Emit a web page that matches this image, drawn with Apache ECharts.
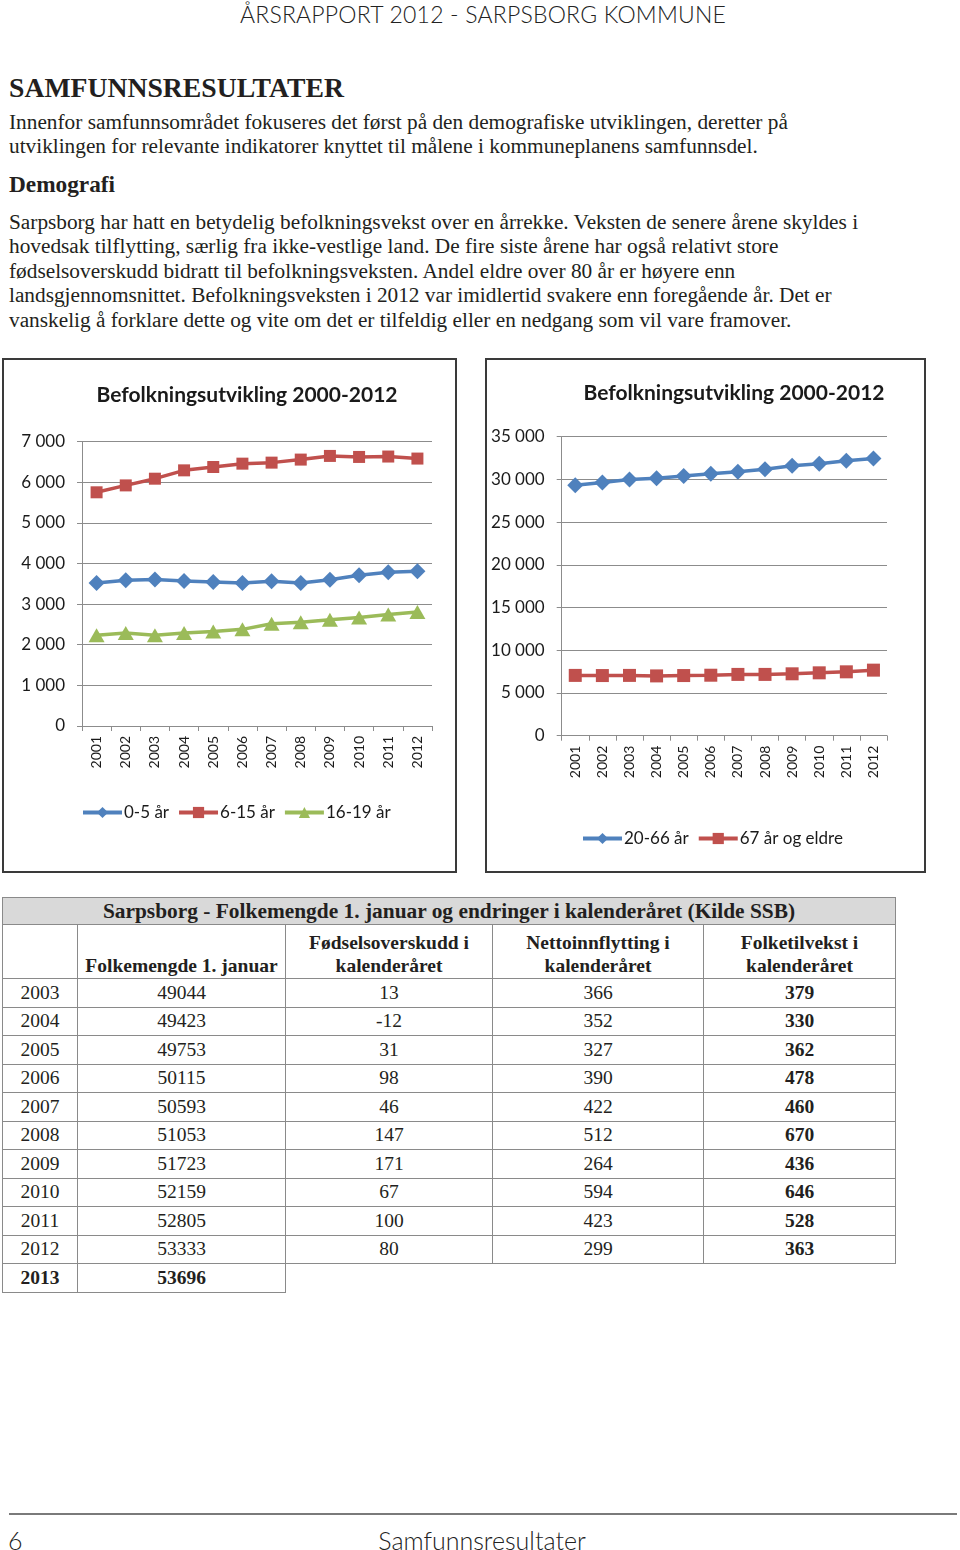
<!DOCTYPE html>
<html>
<head>
<meta charset="utf-8">
<script src="https://cdn.jsdelivr.net/npm/echarts@6.0.0/dist/echarts.min.js"></script>
<style>
  html, body { margin:0; padding:0; background:#fff; }
  body { width:960px; height:1550px; position:relative; overflow:hidden; color:#231f20; }
  .abs { position:absolute; }
  .hdr { left:0; width:966px; top:0; text-align:center; font-family:Lato, sans-serif; font-weight:300; font-size:23px; line-height:28px; letter-spacing:0.2px; color:#222; }
  .h1 { left:9px; top:72px; font-family:"Liberation Serif", serif; font-weight:bold; font-size:27.7px; line-height:32px; }
  .p { left:9px; font-family:"Liberation Serif", serif; font-size:21.3px; line-height:24.6px; white-space:nowrap; }
  .h2 { left:9px; top:170px; font-family:"Liberation Serif", serif; font-weight:bold; font-size:23.3px; line-height:28px; }
  .box { border:2px solid #3a3a3a; box-sizing:border-box; pointer-events:none; }
  table { position:absolute; left:2px; top:897px; border-collapse:collapse; font-family:"Liberation Serif", serif; font-size:19.5px; color:#231f20; table-layout:fixed; }
  td { border:1.5px solid #8a8a8a; text-align:center; padding:0; height:27.5px; line-height:20px; }
  td.t { background:#d9d9d9; font-weight:bold; font-size:21.4px; height:26px; }
  tr.h td { font-weight:bold; vertical-align:bottom; height:52px; padding-bottom:1px; line-height:23px; }
  td.b { font-weight:bold; }
  td.n { border:none; }
  .foot { left:9px; top:1513px; width:948px; height:0; border-top:2px solid #7a7a7a; }
  .pg { font-family:Lato, sans-serif; font-weight:300; font-size:25px; line-height:30px; color:#222; top:1525px; }
</style>
</head>
<body>
<div class="abs hdr">ÅRSRAPPORT 2012 - SARPSBORG KOMMUNE</div>
<div class="abs h1">SAMFUNNSRESULTATER</div>
<div class="abs p" style="top:109.7px">Innenfor samfunnsområdet fokuseres det først på den demografiske utviklingen, deretter på<br>utviklingen for relevante indikatorer knyttet til målene i kommuneplanens samfunnsdel.</div>
<div class="abs h2">Demografi</div>
<div class="abs p" style="top:209.7px">Sarpsborg har hatt en betydelig befolkningsvekst over en årrekke. Veksten de senere årene skyldes i<br>hovedsak tilflytting, særlig fra ikke-vestlige land. De fire siste årene har også relativt store<br>fødselsoverskudd bidratt til befolkningsveksten. Andel eldre over 80 år er høyere enn<br>landsgjennomsnittet. Befolkningsveksten i 2012 var imidlertid svakere enn foregående år. Det er<br>vanskelig å forklare dette og vite om det er tilfeldig eller en nedgang som vil vare framover.</div>

<div id="c1" class="abs" style="left:2px; top:358px; width:454px; height:514px;"></div>
<div class="abs box" style="left:2px; top:358px; width:455px; height:515px;"></div>
<div id="c2" class="abs" style="left:485px; top:358px; width:440px; height:514px;"></div>
<div class="abs box" style="left:485px; top:358px; width:441px; height:515px;"></div>

<table id="tbl"></table>

<div class="abs foot"></div>
<div class="abs pg" style="left:8px;">6</div>
<div class="abs pg" style="left:0; width:964px; text-align:center;">Samfunnsresultater</div>

<script>
// ---- chart data ----
const years = ['2001','2002','2003','2004','2005','2006','2007','2008','2009','2010','2011','2012'];
const age0_5   = [3518,3585,3602,3568,3543,3518,3560,3518,3600,3708,3782,3807];
const age6_15  = [5750,5920,6085,6290,6372,6455,6480,6555,6645,6620,6630,6580];
const age16_19 = [2230,2286,2230,2286,2328,2378,2518,2550,2617,2667,2741,2805];
const age20_66 = [29330,29650,30000,30150,30390,30660,30890,31200,31590,31830,32180,32460];
const age67    = [7058,7040,7058,7000,7040,7080,7174,7174,7244,7360,7477,7674];

// ---- table data ----
const tblYears      = ['2003','2004','2005','2006','2007','2008','2009','2010','2011','2012'];
const tblFolkemengde = [49044,49423,49753,50115,50593,51053,51723,52159,52805,53333];
const tblFodsel     = [13,-12,31,98,46,147,171,67,100,80];
const tblNetto      = [366,352,327,390,422,512,264,594,423,299];
const tblTilvekst   = [379,330,362,478,460,670,436,646,528,363];
const lastYear = '2013', lastFolkemengde = 53696;

const BLUE = '#4f81bd', RED = '#c0504d', GREEN = '#9bbb59';
const FONT = 'Lato, "Open Sans", sans-serif';
const fmt = v => String(v).replace(/\B(?=(\d{3})+(?!\d))/g, ' ');

function baseOption(cfg) {
  return {
    animation: false,
    title: {
      text: 'Befolkningsutvikling 2000-2012',
      left: cfg.titleX, top: cfg.titleY, textAlign: 'center',
      textStyle: { fontFamily: FONT, fontWeight: 'bold', fontSize: 21, color: '#1a1a1a' }
    },
    legend: {
      left: cfg.legendX, top: cfg.legendY, itemWidth: 39, itemHeight: 14, itemGap: 8,
      lineStyle: { width: 4 },
      textStyle: { fontFamily: FONT, fontSize: 17, color: '#1a1a1a', padding: [0,0,0,-3] }
    },
    grid: cfg.grid,
    xAxis: {
      type: 'category', data: years, boundaryGap: true,
      axisLine: { lineStyle: { color: '#8c8c8c', width: 1 } },
      axisTick: { show: true, length: 5, interval: 0, lineStyle: { color: '#8c8c8c' } },
      axisLabel: { interval: 0, rotate: 90, margin: 10, fontFamily: FONT, fontSize: 14, color: '#1a1a1a' }
    },
    yAxis: {
      type: 'value', min: 0, max: cfg.max, interval: cfg.interval,
      axisLine: { show: true, lineStyle: { color: '#8c8c8c', width: 1 } },
      axisTick: { show: true, length: 5, lineStyle: { color: '#8c8c8c' } },
      splitLine: { lineStyle: { color: '#8c8c8c', width: 1 } },
      axisLabel: { formatter: fmt, margin: 17, fontFamily: FONT, fontSize: 17, color: '#1a1a1a' }
    },
    series: cfg.series
  };
}
function line(name, data, color, symbol, size) {
  return { name, type: 'line', data, symbol, symbolSize: size, showSymbol: true,
    itemStyle: { color }, lineStyle: { color, width: 3.5 } };
}

const c1 = echarts.init(document.getElementById('c1'), null, { renderer: 'canvas' });
c1.setOption(baseOption({
  titleX: 240, titleY: 22, legendX: 74, legendY: 441,
  grid: { left: 80, right: 24, top: 83.5, bottom: 146 },
  max: 7000, interval: 1000,
  series: [
    line('0-5 år', age0_5, BLUE, 'diamond', 16),
    line('6-15 år', age6_15, RED, 'rect', 12),
    line('16-19 år', age16_19, GREEN, 'triangle', [16, 14])
  ]
}));

const c2 = echarts.init(document.getElementById('c2'), null, { renderer: 'canvas' });
c2.setOption(baseOption({
  titleX: 244, titleY: 20, legendX: 91, legendY: 467,
  grid: { left: 76.7, right: 38, top: 78.7, bottom: 136.3 },
  max: 35000, interval: 5000,
  series: [
    line('20-66 år', age20_66, BLUE, 'diamond', 16),
    line('67 år og eldre', age67, RED, 'rect', 13)
  ]
}));

// ---- table ----
const widths = [75, 208, 207, 211, 192];
let html = '<colgroup>' + widths.map(w => `<col style="width:${w}px">`).join('') + '</colgroup>';
html += '<tr><td class="t" colspan="5">Sarpsborg - Folkemengde 1. januar og endringer i kalenderåret (Kilde SSB)</td></tr>';
html += '<tr class="h"><td></td><td>Folkemengde 1. januar</td><td>Fødselsoverskudd i<br>kalenderåret</td><td>Nettoinnflytting i<br>kalenderåret</td><td>Folketilvekst i<br>kalenderåret</td></tr>';
tblYears.forEach((y, i) => {
  html += `<tr><td>${y}</td><td>${tblFolkemengde[i]}</td><td>${tblFodsel[i]}</td><td>${tblNetto[i]}</td><td class="b">${tblTilvekst[i]}</td></tr>`;
});
html += `<tr><td class="b">${lastYear}</td><td class="b">${lastFolkemengde}</td><td class="n"></td><td class="n"></td><td class="n"></td></tr>`;
document.getElementById('tbl').innerHTML = html;
</script>
</body>
</html>
